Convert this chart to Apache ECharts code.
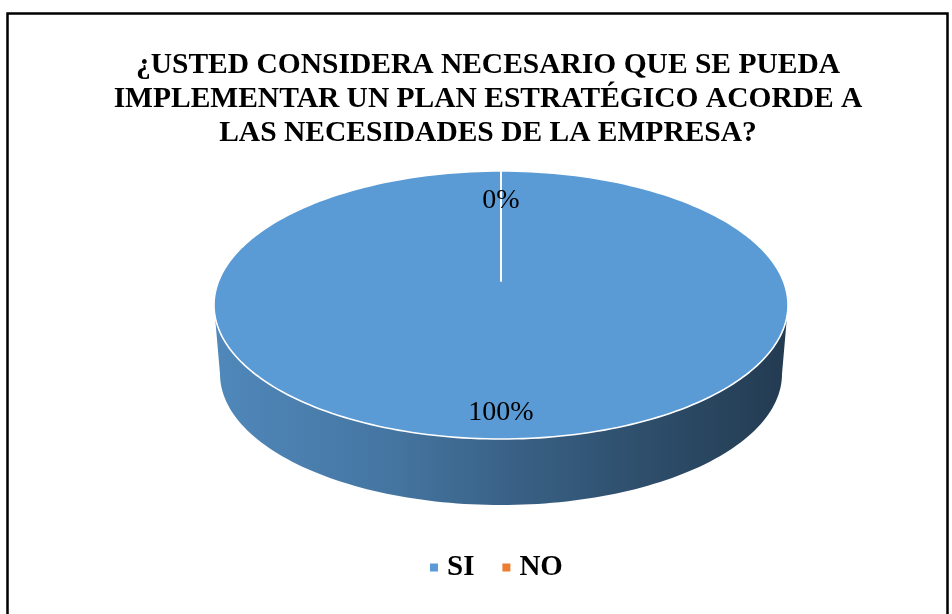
<!DOCTYPE html>
<html>
<head>
<meta charset="utf-8">
<script src="https://cdn.jsdelivr.net/npm/echarts@6/dist/echarts.min.js"></script>
<style>
html,body{margin:0;padding:0;background:#fff;}
#chart{width:952px;height:614px;}
</style>
</head>
<body>
<div id="chart"></div>
<script>
// ---- data ----
const titleLines = ['¿USTED CONSIDERA NECESARIO QUE SE PUEDA', 'IMPLEMENTAR UN PLAN ESTRATÉGICO ACORDE A', 'LAS NECESIDADES DE LA EMPRESA?'];
const categories = ['SI', 'NO'];
const values = [100, 0];
const colors = ['#5B9BD5', '#ED7D31'];

// ---- geometry / style ----
const G = {cx: 501, cy: 305, rx: 287, ry: 134, hubY: 281, bcx: 501, bcy: 374, brx: 281, bry: 131, labelR: 0.79};
const total = values.reduce((a, b) => a + b, 0);
const cum = [];
values.reduce((acc, v, i) => { cum[i] = acc; return acc + v; }, 0);

function angles(i) {
  const a0 = -Math.PI / 2 + 2 * Math.PI * cum[i] / total;
  const a1 = a0 + 2 * Math.PI * values[i] / total;
  return [a0, a1];
}
function ept(t, cx, cy, rx, ry) { return [cx + rx * Math.cos(t), cy + ry * Math.sin(t)]; }
function darken(c, f) {
  const a = echarts.color.parse(c);
  return 'rgb(' + [0, 1, 2].map(k => Math.round(a[k] * f)).join(',') + ')';
}

function renderSide(i) {
  return function (params, api) {
    const v = api.value(0);
    const [a0, a1] = angles(i);
    const s = Math.max(a0, 0), e = Math.min(a1, Math.PI);
    if (v <= 0 || e <= s) return {type: 'group', children: []};
    const pts = [];
    const n = 120;
    for (let k = 0; k <= n; k++) { const t = s + (e - s) * k / n; pts.push(ept(t, G.cx, G.cy, G.rx, G.ry)); }
    for (let k = n; k >= 0; k--) { const t = s + (e - s) * k / n; pts.push(ept(t, G.bcx, G.bcy, G.brx, G.bry)); }
    const c = colors[i];
    return {
      type: 'polygon',
      shape: {points: pts},
      style: {
        fill: new echarts.graphic.LinearGradient(0, 0, 1, 0, [
          {offset: 0, color: darken(c, 0.88)},
          {offset: 0.3, color: darken(c, 0.76)},
          {offset: 0.5, color: darken(c, 0.64)},
          {offset: 0.75, color: darken(c, 0.5)},
          {offset: 1, color: darken(c, 0.38)}
        ]),
        stroke: null
      }
    };
  };
}

function renderTop(i) {
  return function (params, api) {
    const v = api.value(0);
    const [a0, a1] = angles(i);
    const pts = [[G.cx, G.hubY]];
    const n = Math.max(2, Math.ceil(240 * (a1 - a0) / (2 * Math.PI)));
    for (let k = 0; k <= n; k++) { const t = a0 + (a1 - a0) * k / n; pts.push(ept(t, G.cx, G.cy, G.rx, G.ry)); }
    const mid = (a0 + a1) / 2;
    const lp = ept(mid, G.cx, G.cy, G.rx * G.labelR, G.ry * G.labelR);
    const pct = Math.round(v / total * 100) + '%';
    return {
      type: 'group',
      children: [
        {type: 'polygon', shape: {points: pts}, style: {fill: colors[i], stroke: '#ffffff', lineWidth: 1.6, lineJoin: 'round'}},
        {type: 'text', x: lp[0], y: lp[1] + 2, z2: 10,
          style: {text: pct, fill: '#000', font: '28px "Liberation Serif", "Times New Roman", serif', align: 'center', verticalAlign: 'middle'}}
      ]
    };
  };
}

const series = [];
categories.forEach((name, i) => {
  series.push({type: 'custom', name: name, coordinateSystem: 'none', z: 1, itemStyle: {color: colors[i]},
    data: [[values[i]]], renderItem: renderSide(i), silent: true});
});
categories.forEach((name, i) => {
  series.push({type: 'custom', name: name, coordinateSystem: 'none', z: 2, itemStyle: {color: colors[i]},
    data: [[values[i]]], renderItem: renderTop(i), silent: true});
});

const chart = echarts.init(document.getElementById('chart'), null, {renderer: 'canvas'});
chart.setOption({
  animation: false,
  backgroundColor: '#ffffff',
  title: {
    text: titleLines.join('\n'),
    left: 488,
    top: 48,
    padding: 0,
    textAlign: 'center',
    textStyle: {fontFamily: '"Liberation Serif", "Times New Roman", serif', fontWeight: 'bold', fontSize: 29.5, lineHeight: 34, color: '#000'}
  },
  legend: {
    data: categories,
    left: 430,
    top: 553,
    padding: 0,
    icon: 'rect',
    itemWidth: 8,
    itemHeight: 8,
    itemGap: 28,
    selectedMode: false,
    textStyle: {fontFamily: '"Liberation Serif", "Times New Roman", serif', fontWeight: 'bold', fontSize: 29, color: '#000', padding: [0, 0, 0, 4]}
  },
  graphic: [{type: 'rect', shape: {x: 7.5, y: 13.5, width: 940, height: 620}, style: {fill: null, stroke: '#000', lineWidth: 2.5}, silent: true, z: 100}],
  series: series
});
</script>
</body>
</html>
